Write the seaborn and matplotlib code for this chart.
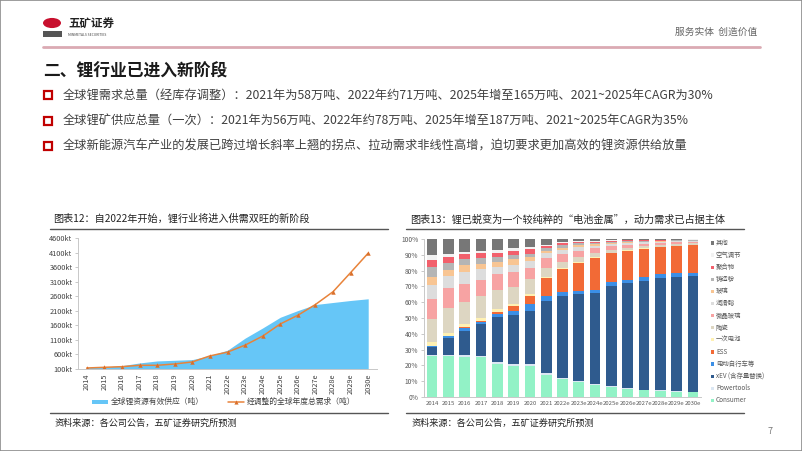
import numpy as np
import pandas as pd
import matplotlib
matplotlib.use("Agg")
import matplotlib.pyplot as plt
from matplotlib.patches import Rectangle, Circle
from matplotlib.lines import Line2D
import seaborn as sns

# -----------------------------
# Data
# -----------------------------
years = ["2014", "2015", "2016", "2017", "2018", "2019", "2020", "2021", "2022e",
         "2023e", "2024e", "2025e", "2026e", "2027e", "2028e", "2029e", "2030e"]

# chart 12 (kt)
supply_kt = [146, 170, 215, 308, 377, 400, 423, 560, 746, 1160, 1510, 1877,
             2108, 2315, 2385, 2454, 2512]
demand_kt = [135, 158, 180, 227, 227, 273, 342, 550, 680, 920, 1230, 1646,
             1946, 2315, 2754, 3412, 4081]
y_ticks_kt = [100, 600, 1100, 1600, 2100, 2600, 3100, 3600, 4100, 4600]

# chart 13 (% share), bottom -> top
consumer = [26, 26, 25.5, 25.3, 21.2, 19.6, 19.6, 13.9, 11.1, 9.2, 7.5, 6.1, 4.8, 4.2, 3.7, 3.1, 2.9]
powertools = [0.5, 1, 1, 0.7, 0.9, 1.2, 1, 1, 0.9, 0.8, 0.7, 0.6, 0.6, 0.5, 0.5, 0.5, 0.4]
xev = [5, 10.5, 15, 20, 28.3, 31, 34, 46, 52.1, 55, 57.8, 63.6, 66.5, 68.9, 70.9, 72.5, 73.3]
ebike = [1, 1, 2, 1.6, 2.4, 2.7, 4.2, 3, 2.5, 2.3, 1.7, 2.7, 2.1, 2.5, 2.5, 2.2, 2.1]
ess = [0, 0, 0.5, 0.5, 1.1, 3, 5.2, 11.2, 14.2, 17.7, 20.5, 17.9, 18.6, 17.6, 17.1, 17.3, 17.5]
primary = [2, 2, 2, 2.1, 1.5, 1.3, 1.5, 1, 0.8, 0.6, 0.5, 0.4, 0.3, 0.3, 0.2, 0.2, 0.2]
ceramics = [15, 16, 14.3, 13.7, 12.2, 11, 8.9, 5.3, 4, 3.2, 2.4, 1.9, 1.5, 1.3, 1.1, 0.9, 0.8]
glass_ceramic = [12.5, 13, 11.2, 10.1, 10, 9.5, 7.4, 6.4, 4.7, 3.8, 3, 2.4, 2, 1.7, 1.4, 1.2, 1.0]
grease = [9, 7.5, 7.8, 7, 4.8, 4.4, 4.4, 3.1, 2.7, 2.1, 1.6, 1.2, 1, 0.8, 0.7, 0.6, 0.5]
glass = [5, 3.5, 4.2, 3.4, 3.2, 3.4, 2.5, 1.7, 1.5, 1.5, 1, 0.8, 0.7, 0.6, 0.5, 0.4, 0.35]
casting = [6, 4.5, 3.6, 3.3, 2.7, 2.5, 2.1, 1.5, 1.5, 1.1, 0.9, 0.7, 0.6, 0.5, 0.4, 0.3, 0.3]
polymer = [5, 4, 3.2, 3.2, 2.6, 2.5, 2.6, 1.5, 1.3, 0.9, 0.8, 0.6, 0.5, 0.4, 0.4, 0.3, 0.25]
air = [3, 2, 1.5, 1.7, 2.1, 1.9, 1.4, 0.8, 0.6, 0.4, 0.4, 0.3, 0.2, 0.2, 0.2, 0.1, 0.1]
other = [10, 9.5, 8.2, 7.4, 7, 6, 5.2, 3.6, 2.1, 1.4, 1.2, 0.8, 0.6, 0.5, 0.4, 0.4, 0.3]

seg_names = ["Consumer", "Powertools", "xEV (含存量替换)", "电动自行车等", "ESS", "一次电池",
             "陶瓷", "微晶玻璃", "润滑脂", "玻璃", "铸造粉", "聚合物", "空气调节", "其他"]
seg_values = [consumer, powertools, xev, ebike, ess, primary, ceramics, glass_ceramic,
              grease, glass, casting, polymer, air, other]
seg_colors = ["#92f2c6", "#dbe7f3", "#2f5b8e", "#3b8fe6", "#f26a36", "#fff1b3",
              "#ddd6c2", "#f7a3a3", "#dddddd", "#f8c593", "#b5b5b5", "#f2606c",
              "#f2f2f2", "#777777"]

bullets = [
    "全球锂需求总量（经库存调整）：2021年为58万吨、2022年约71万吨、2025年增至165万吨、2021~2025年CAGR为30%",
    "全球锂矿供应总量（一次）：2021年为56万吨、2022年约78万吨、2025年增至187万吨、2021~2025年CAGR为35%",
    "全球新能源汽车产业的发展已跨过增长斜率上翘的拐点、拉动需求非线性高增，迫切要求更加高效的锂资源供给放量",
]

# -----------------------------
# Page setup
# -----------------------------
sns.set_theme(style="white")
plt.rcParams["font.family"] = ["Noto Sans CJK SC", "DejaVu Sans"]
plt.rcParams["axes.unicode_minus"] = False

W, H = 802, 451
fig = plt.figure(figsize=(W / 100, H / 100), dpi=100)
fig.patch.set_facecolor("white")


def fx(x):
    return x / W


def fy(y):
    return 1 - y / H


txt = "#404040"

# frame
fig.add_artist(Rectangle((0, 0), 1, 1, transform=fig.transFigure, fill=False,
                         edgecolor="#8c8c8c", lw=1.2))

# header
fig.add_artist(Circle((fx(52), fy(23)), 9 / W, transform=fig.transFigure,
                      facecolor="#c8102e", edgecolor="none"))
fig.add_artist(Rectangle((fx(43), fy(37)), 19 / W, 6 / H, transform=fig.transFigure,
                         facecolor="#555555", edgecolor="none"))
fig.text(fx(68), fy(24), "五矿证券", fontsize=8.3, fontweight="bold", color="#222222", va="center")
fig.text(fx(68), fy(35), "MINMETALS SECURITIES", fontsize=2.4, color="#444444", va="center")
fig.text(fx(757), fy(32), "服务实体  创造价值", fontsize=7, color="#666666", ha="right", va="center")
fig.add_artist(Line2D([fx(43), fx(760)], [fy(47), fy(47)], transform=fig.transFigure,
                      color="#dbaab3", lw=2))

fig.text(fx(43), fy(72), "二、锂行业已进入新阶段", fontsize=12.1, fontweight="bold",
         color="#1a1a1a", va="center")

for i, b in enumerate(bullets):
    yy = 95 + i * 25.5
    fig.add_artist(Rectangle((fx(44), fy(yy + 4)), 8 / W, 8 / H, transform=fig.transFigure,
                             facecolor="white", edgecolor="#c00000", lw=1.6))
    fig.text(fx(63), fy(yy), b, fontsize=8.8, color=txt, va="center")

# chart titles, rules, sources
fig.text(fx(53), fy(219), "图表12：自2022年开始，锂行业将进入供需双旺的新阶段", fontsize=7.3,
         color="#222222", va="center")
fig.text(fx(410), fy(220), "图表13：锂已蜕变为一个较纯粹的“电池金属”，动力需求已占据主体",
         fontsize=7.3, color="#222222", va="center")
for x0, x1 in [(50, 388), (406, 744)]:
    fig.add_artist(Line2D([fx(x0), fx(x1)], [fy(229), fy(229)], transform=fig.transFigure,
                          color="#555555", lw=1))
    fig.add_artist(Line2D([fx(x0), fx(x1)], [fy(412.5), fy(412.5)], transform=fig.transFigure,
                          color="#555555", lw=1))
fig.text(fx(55), fy(423), "资料来源：各公司公告，五矿证券研究所预测", fontsize=6.6, color="#222222", va="center")
fig.text(fx(412), fy(423), "资料来源：各公司公告，五矿证券研究所预测", fontsize=6.6, color="#222222", va="center")
fig.text(fx(768), fy(431), "7", fontsize=6.5, color="#777777", va="center")

# -----------------------------
# Chart 12: supply area + demand line
# -----------------------------
ax1 = fig.add_axes([fx(78), fy(369), (377 - 78) / W, (369 - 238) / H])
pos = np.arange(len(years))
df12 = pd.DataFrame({"pos": pos, "supply": supply_kt, "demand": demand_kt})
ax1.fill_between(df12["pos"], 0, df12["supply"], color="#66c6f7", lw=0)
sns.lineplot(data=df12, x="pos", y="demand", ax=ax1, color="#e8833a", lw=1.1,
             marker="^", markersize=3.2, markeredgewidth=0, markerfacecolor="#d96f2b")
ax1.set_xlim(-0.5, len(years) - 0.5)
ax1.set_ylim(100, 4600)
ax1.set_yticks(y_ticks_kt)
ax1.set_yticklabels([f"{v}kt" for v in y_ticks_kt], fontsize=5.3, color=txt)
ax1.set_xticks(pos)
ax1.set_xticklabels(years, rotation=90, fontsize=5.3, color=txt)
ax1.set_xticks(np.arange(-0.5, len(years)), minor=True)
ax1.tick_params(axis="x", which="major", length=0, pad=3)
ax1.tick_params(axis="x", which="minor", length=2.5, color="#bfbfbf", width=0.6)
ax1.tick_params(axis="y", length=2, color="#bfbfbf", width=0.6, pad=2, left=True)
ax1.set_xlabel("")
ax1.set_ylabel("")
for s in ["top", "right"]:
    ax1.spines[s].set_visible(False)
for s in ["left", "bottom"]:
    ax1.spines[s].set_color("#c8c8c8")
    ax1.spines[s].set_linewidth(0.7)
ax1.set_facecolor("none")

# legend of chart 12, drawn by hand to match spacing
fig.add_artist(Rectangle((fx(92), fy(404)), 16 / W, 4 / H, transform=fig.transFigure,
                         facecolor="#66c6f7", edgecolor="none"))
fig.text(fx(111), fy(402), "全球锂资源有效供应（吨）", fontsize=5.6, color=txt, va="center")
fig.add_artist(Line2D([fx(228), fx(244)], [fy(402), fy(402)], transform=fig.transFigure,
                      color="#e8833a", lw=1.1))
fig.add_artist(Line2D([fx(236)], [fy(402)], transform=fig.transFigure, marker="^",
                      markersize=3, markeredgewidth=0, markerfacecolor="#d96f2b", lw=0))
fig.text(fx(247), fy(402), "经调整的全球年度总需求（吨）", fontsize=5.6, color=txt, va="center")

# -----------------------------
# Chart 13: 100% stacked bars
# -----------------------------
ax2 = fig.add_axes([fx(424), fy(397), (701 - 424) / W, (397 - 239) / H])
cum = np.cumsum(np.array(seg_values), axis=0)
cum = cum / cum[-1] * 100
for k in range(len(seg_names) - 1, -1, -1):
    df13 = pd.DataFrame({"year": years, "val": cum[k] / 100})
    sns.barplot(data=df13, x="year", y="val", ax=ax2, color=seg_colors[k], width=0.65,
                saturation=1, linewidth=0, errorbar=None)
ax2.set_xlim(-0.5, len(years) - 0.5)
ax2.set_ylim(0, 1)
ax2.set_yticks(np.arange(0, 1.01, 0.1))
ax2.set_yticklabels([f"{int(round(v * 100))}%" for v in np.arange(0, 1.01, 0.1)],
                    fontsize=4.8, color="#595959")
ax2.tick_params(axis="x", length=0, pad=3, labelsize=4.3, labelcolor="#595959")
ax2.tick_params(axis="y", length=2, color="#bfbfbf", width=0.6, pad=2, left=True)
ax2.set_xlabel("")
ax2.set_ylabel("")
for s in ["top", "right"]:
    ax2.spines[s].set_visible(False)
for s in ["left", "bottom"]:
    ax2.spines[s].set_color("#c8c8c8")
    ax2.spines[s].set_linewidth(0.7)

# legend, top entry = last segment
for i, k in enumerate(range(len(seg_names) - 1, -1, -1)):
    yy = 243 + i * 12.1
    fig.add_artist(Rectangle((fx(711), fy(yy + 1.6)), 3.2 / W, 3.2 / H, transform=fig.transFigure,
                             facecolor=seg_colors[k], edgecolor="none"))
    fig.text(fx(716), fy(yy), seg_names[k], fontsize=4.6, color="#595959", va="center")

fig.savefig("out.png", dpi=100)
